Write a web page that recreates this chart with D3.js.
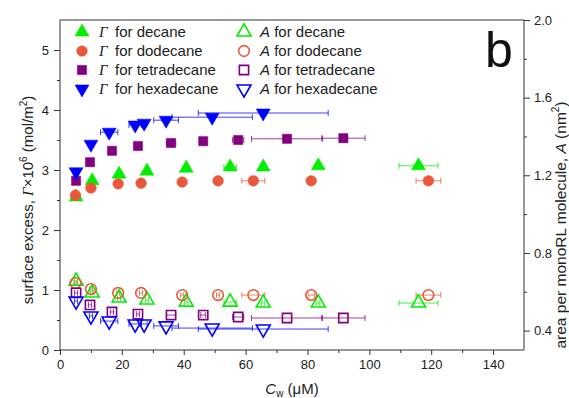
<!DOCTYPE html>
<html><head><meta charset="utf-8">
<script src="https://cdn.jsdelivr.net/npm/d3@7"></script>
<style>
body{margin:0;background:#fff;}
svg{display:block;font-family:"Liberation Sans",Arial,sans-serif;}
</style></head>
<body><svg id="c" width="569" height="398"></svg>
<script>
// ---- data ----
const compounds = ["decane","dodecane","tetradecane","hexadecane"];
const colors = ["#00ee00","#e8583a","#800080","#0000ff"];

const xDecane = [5.2, 10.4, 19.1, 28.1, 40.8, 55.0, 65.7, 83.5, 115.9];
const xErrDecane = [0.5, 0.5, 0.5, 0.5, 0.5, 2.0, 0.5, 0.5, 6.3];
const gammaDecane = [2.55, 2.82, 2.93, 2.98, 3.03, 3.05, 3.05, 3.07, 3.07];
const areaDecane = [0.655, 0.594, 0.568, 0.558, 0.547, 0.547, 0.542, 0.542, 0.542];

const xDodecane = [5.0, 10.0, 18.8, 26.2, 39.5, 51.1, 62.5, 81.2, 119.1];
const xErrDodecane = [0.5, 0.5, 0.5, 0.5, 0.5, 0.5, 3.7, 1.0, 4.0];
const gammaDodecane = [2.58, 2.70, 2.77, 2.78, 2.80, 2.82, 2.82, 2.82, 2.82];
const areaDodecane = [0.645, 0.614, 0.594, 0.594, 0.583, 0.583, 0.583, 0.583, 0.583];

const xTetradecane = [5.2, 9.7, 16.8, 25.2, 35.9, 46.3, 57.6, 73.4, 91.6];
const xErrTetradecane = [0.5, 0.5, 0.5, 0.5, 1.5, 0.8, 1.8, 11.5, 7.0];
const gammaTetradecane = [2.82, 3.13, 3.32, 3.40, 3.45, 3.48, 3.50, 3.52, 3.53];
const areaTetradecane = [0.594, 0.532, 0.496, 0.485, 0.480, 0.480, 0.470, 0.465, 0.465];

const xHexadecane = [5.2, 10.0, 15.9, 24.3, 27.2, 34.3, 49.2, 65.7];
const xErrHexadecane = [0.5, 0.5, 2.8, 2.0, 1.0, 4.0, 13.0, 21.0];
const gammaHexadecane = [2.97, 3.43, 3.63, 3.75, 3.78, 3.83, 3.88, 3.95];
const areaHexadecane = [0.552, 0.475, 0.449, 0.434, 0.434, 0.424, 0.413, 0.408];

const xTicks = [0,20,40,60,80,100,120,140];
const xMinor = [10,30,50,70,90,110,130];
const leftTicks = [0,1,2,3,4,5];
const leftMinor = [0.5,1.5,2.5,3.5,4.5];
const rightTicks = [0.4,0.8,1.2,1.6,2.0];
const rightMinor = [0.6,1.0,1.4,1.8];

// ---- build ----
const X = [xDecane,xDodecane,xTetradecane,xHexadecane];
const XE = [xErrDecane,xErrDodecane,xErrTetradecane,xErrHexadecane];
const G = [gammaDecane,gammaDodecane,gammaTetradecane,gammaHexadecane];
const A = [areaDecane,areaDodecane,areaTetradecane,areaHexadecane];
const shapes = ["tri","circle","square","down"];

const svg = d3.select("#c");
const L=60,R=524,T=20,B=350;
const x = d3.scaleLinear([0,150],[L,R]);
const yL = d3.scaleLinear([0,5.5],[B,T]);
const yR = d3.scaleLinear([0.3,2.0],[B,T]);
const axisColor="#333";

function symPath(s){
  if(s==="tri"||s==="down") return d3.symbol(d3.symbolTriangle,85)();
  if(s==="circle") return d3.symbol(d3.symbolCircle,90)();
  return d3.symbol(d3.symbolSquare,85)();
}
function marker(g,s,cx,cy,col,filled){
  g.append("path").attr("d",symPath(s))
   .attr("transform",`translate(${cx},${cy})`+(s==="down"?" rotate(180)":""))
   .attr("fill",filled?col:"none").attr("stroke",col)
   .attr("stroke-width",filled?0.5:1.6);
}

// frame
svg.append("line").attr("x1",L).attr("x2",R).attr("y1",T).attr("y2",T).attr("stroke",axisColor);

function styleAxis(g){
  g.selectAll(".domain").remove();
  g.selectAll(".tick line").attr("stroke",axisColor);
  g.selectAll("text").attr("font-size",13).attr("fill","#222").attr("font-family","Liberation Sans, Arial, sans-serif");
}
let g;
g=svg.append("g").attr("transform",`translate(0,${B})`).call(d3.axisBottom(x).tickValues(xTicks).tickSize(5).tickPadding(5).tickFormat(d3.format("d"))); styleAxis(g);
g=svg.append("g").attr("transform",`translate(0,${B})`).call(d3.axisBottom(x).tickValues(xMinor).tickSize(3).tickFormat("")); styleAxis(g);
g=svg.append("g").attr("transform",`translate(${L},0)`).call(d3.axisLeft(yL).tickValues(leftTicks).tickSize(6).tickPadding(5).tickFormat(d3.format("d"))); styleAxis(g);
g=svg.append("g").attr("transform",`translate(${L},0)`).call(d3.axisLeft(yL).tickValues(leftMinor).tickSize(3).tickFormat("")); styleAxis(g);
g=svg.append("g").attr("transform",`translate(${R},0)`).call(d3.axisRight(yR).tickValues(rightTicks).tickSize(6).tickPadding(4).tickFormat(d3.format(".1f"))); styleAxis(g);
g=svg.append("g").attr("transform",`translate(${R},0)`).call(d3.axisRight(yR).tickValues(rightMinor).tickSize(3).tickFormat("")); styleAxis(g);
svg.append("line").attr("x1",L).attr("x2",R).attr("y1",B).attr("y2",B).attr("stroke",axisColor);
svg.append("line").attr("x1",L).attr("x2",L).attr("y1",T).attr("y2",B).attr("stroke",axisColor);
svg.append("line").attr("x1",R).attr("x2",R).attr("y1",T).attr("y2",B).attr("stroke",axisColor);

// data
const dg = svg.append("g");
function errBars(xs,xe,ys,ysc,col){
  xs.forEach((v,i)=>{
    const cy=ysc(ys[i]), x0=x(v-xe[i]), x1=x(v+xe[i]);
    dg.append("line").attr("x1",x0).attr("x2",x1).attr("y1",cy).attr("y2",cy).attr("stroke",col).attr("stroke-width",1).attr("opacity",0.75);
    [x0,x1].forEach(xx=>dg.append("line").attr("x1",xx).attr("x2",xx).attr("y1",cy-3).attr("y2",cy+3).attr("stroke",col).attr("stroke-width",1).attr("opacity",0.75));
  });
}
for(let k=0;k<4;k++){
  errBars(X[k],XE[k],G[k],yL,colors[k]);
  errBars(X[k],XE[k],A[k],yR,colors[k]);
}
for(let k=0;k<4;k++){
  X[k].forEach((v,i)=>marker(dg,shapes[k],x(v),yL(G[k][i]),colors[k],true));
  X[k].forEach((v,i)=>marker(dg,shapes[k],x(v),yR(A[k][i]),colors[k],false));
}

// legend
const lg = svg.append("g").attr("font-size",15).attr("fill","#222");
compounds.forEach((c,i)=>{
  const cy = 32 + i*19;
  marker(lg,shapes[i],82,cy,colors[i],true);
  marker(lg,shapes[i],244,cy,colors[i],false);
  const t1 = lg.append("text").attr("x",99).attr("y",cy+5);
  t1.append("tspan").attr("font-style","italic").attr("font-family","Liberation Serif, serif").text("Γ");
  t1.append("tspan").attr("x",115).text("for "+c);
  const t2 = lg.append("text").attr("x",260).attr("y",cy+5);
  t2.append("tspan").attr("font-style","italic").text("A");
  t2.append("tspan").text(" for "+c);
});

// panel letter
svg.append("text").attr("x",485).attr("y",67).attr("font-size",50).attr("fill","#111").text("b");

// axis titles
const yt = svg.append("text").attr("transform","translate(33,200) rotate(-90)").attr("text-anchor","middle").attr("font-size",15).attr("fill","#222");
yt.append("tspan").text("surface excess, ");
yt.append("tspan").attr("font-style","italic").attr("font-family","Liberation Serif, serif").text("Γ");
yt.append("tspan").text("×10");
yt.append("tspan").attr("font-size",10).attr("dy",-6).text("6");
yt.append("tspan").attr("dy",6).text(" (mol/m");
yt.append("tspan").attr("font-size",10).attr("dy",-6).text("2");
yt.append("tspan").attr("dy",6).text(")");

const rt = svg.append("text").attr("transform","translate(566,225) rotate(-90)").attr("text-anchor","middle").attr("font-size",15.5).attr("fill","#222");
rt.append("tspan").text("area per monoRL molecule, ");
rt.append("tspan").attr("font-style","italic").text("A");
rt.append("tspan").text(" (nm");
rt.append("tspan").attr("font-size",10).attr("dy",-7).text("2");
rt.append("tspan").attr("dy",7).text(")");

const xt = svg.append("text").attr("x",292).attr("y",394).attr("text-anchor","middle").attr("font-size",15).attr("fill","#222");
xt.append("tspan").attr("font-style","italic").text("C");
xt.append("tspan").attr("font-size",10).attr("dy",3).text("w");
xt.append("tspan").attr("dy",-3).text(" (μM)");
</script></body></html>
